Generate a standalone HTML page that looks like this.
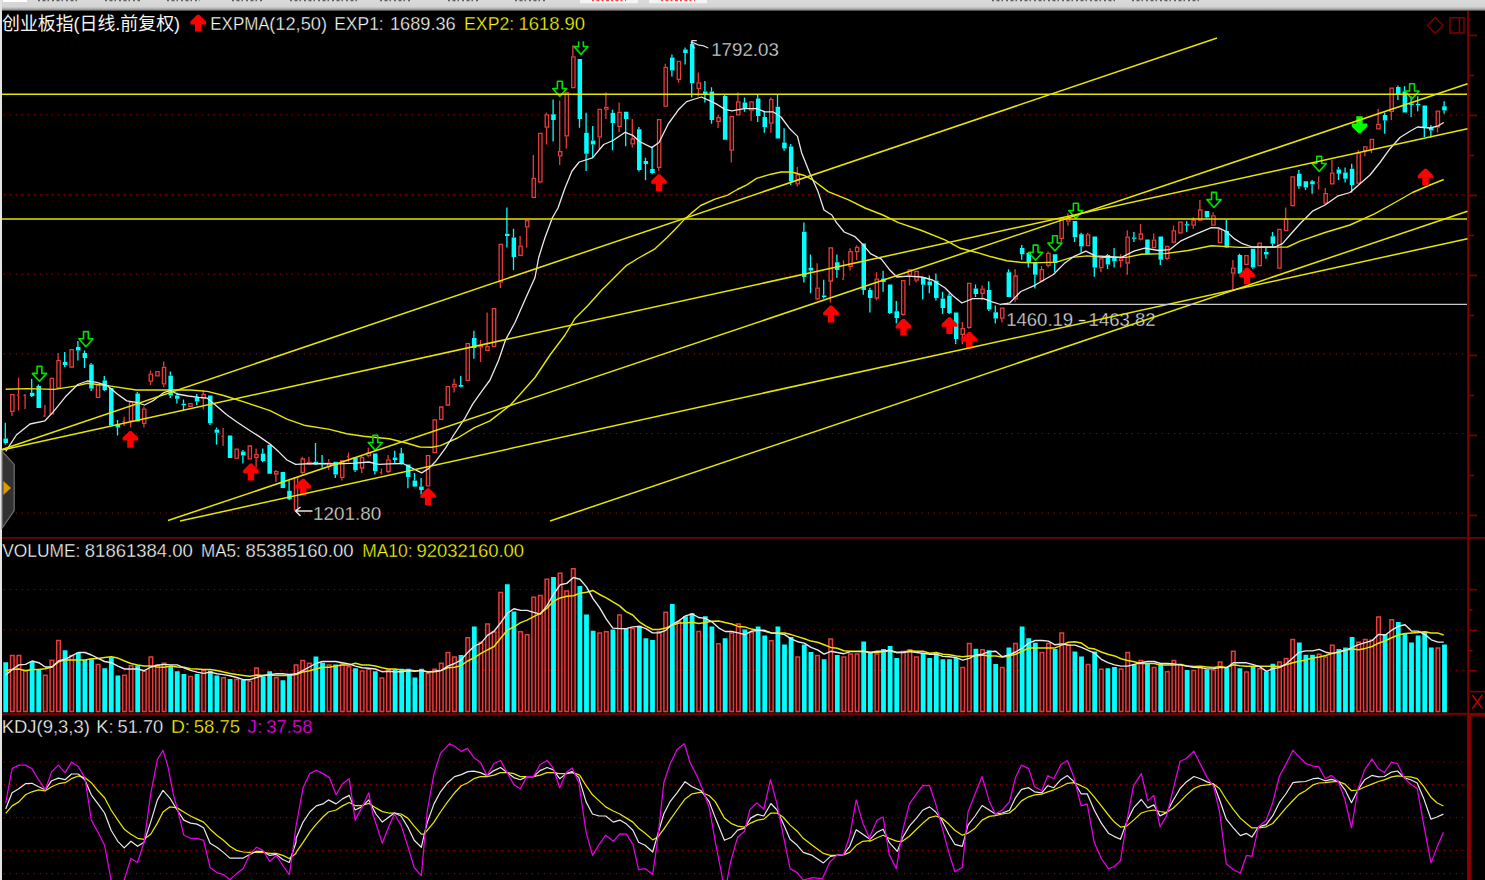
<!DOCTYPE html>
<html><head><meta charset="utf-8"><title>chart</title><style>html,body{margin:0;padding:0;background:#000;overflow:hidden}body{width:1485px;height:880px;position:relative;font-family:"Liberation Sans",sans-serif}</style></head><body>
<svg width="1485" height="880" viewBox="0 0 1485 880" style="position:absolute;left:0;top:0;display:block">
<defs><linearGradient id="tg" x1="0" y1="0" x2="0" y2="1"><stop offset="0" stop-color="#dadada"/><stop offset="0.6" stop-color="#d4d4d4"/><stop offset="0.76" stop-color="#b0b0b0"/><stop offset="0.86" stop-color="#909090"/><stop offset="1" stop-color="#000"/></linearGradient></defs>
<rect width="1485" height="880" fill="#000"/>
<rect x="0" y="0" width="1485" height="11.4" fill="url(#tg)"/>
<rect x="3" y="0" width="24" height="2" fill="#fff"/>
<line x1="38" y1="0.5" x2="78" y2="0.5" stroke="#444" stroke-width="1.6" stroke-dasharray="2 2.5 3 2 1.5 3" opacity="0.8"/>
<line x1="105" y1="0.5" x2="140" y2="0.5" stroke="#444" stroke-width="1.6" stroke-dasharray="2 2.5 3 2 1.5 3" opacity="0.8"/>
<line x1="167" y1="0.5" x2="200" y2="0.5" stroke="#444" stroke-width="1.6" stroke-dasharray="2 2.5 3 2 1.5 3" opacity="0.8"/>
<line x1="232" y1="0.5" x2="262" y2="0.5" stroke="#444" stroke-width="1.6" stroke-dasharray="2 2.5 3 2 1.5 3" opacity="0.8"/>
<line x1="290" y1="0.5" x2="360" y2="0.5" stroke="#444" stroke-width="1.6" stroke-dasharray="2 2.5 3 2 1.5 3" opacity="0.8"/>
<line x1="380" y1="0.5" x2="410" y2="0.5" stroke="#444" stroke-width="1.6" stroke-dasharray="2 2.5 3 2 1.5 3" opacity="0.8"/>
<line x1="448" y1="0.5" x2="480" y2="0.5" stroke="#444" stroke-width="1.6" stroke-dasharray="2 2.5 3 2 1.5 3" opacity="0.8"/>
<line x1="515" y1="0.5" x2="545" y2="0.5" stroke="#444" stroke-width="1.6" stroke-dasharray="2 2.5 3 2 1.5 3" opacity="0.8"/>
<line x1="992" y1="0.5" x2="1117" y2="0.5" stroke="#444" stroke-width="1.6" stroke-dasharray="2 2.5 3 2 1.5 3" opacity="0.8"/>
<line x1="1132" y1="0.5" x2="1202" y2="0.5" stroke="#444" stroke-width="1.6" stroke-dasharray="2 2.5 3 2 1.5 3" opacity="0.8"/>
<rect x="580" y="0" width="58" height="3.2" fill="#f4f4f4"/>
<line x1="592" y1="0.5" x2="626" y2="0.5" stroke="#f03030" stroke-width="1.4" stroke-dasharray="2 2.5 3 2" opacity="0.85"/>
<rect x="649" y="0" width="58" height="3.2" fill="#f4f4f4"/>
<line x1="661" y1="0.5" x2="695" y2="0.5" stroke="#f03030" stroke-width="1.4" stroke-dasharray="2 2.5 3 2" opacity="0.85"/>
<rect x="0" y="0" width="2" height="880" fill="#e4e4e4"/>
<line x1="3.7" y1="114.9" x2="1466" y2="114.9" stroke="#8c0000" stroke-width="1.2" stroke-dasharray="1.3 4.7"/>
<line x1="3.7" y1="194.6" x2="1466" y2="194.6" stroke="#8c0000" stroke-width="1.2" stroke-dasharray="1.3 4.7"/>
<line x1="3.7" y1="274.2" x2="1466" y2="274.2" stroke="#8c0000" stroke-width="1.2" stroke-dasharray="1.3 4.7"/>
<line x1="3.7" y1="353.9" x2="1466" y2="353.9" stroke="#8c0000" stroke-width="1.2" stroke-dasharray="1.3 4.7"/>
<line x1="3.7" y1="433.5" x2="1466" y2="433.5" stroke="#8c0000" stroke-width="1.2" stroke-dasharray="1.3 4.7"/>
<line x1="3.7" y1="513.1" x2="1466" y2="513.1" stroke="#8c0000" stroke-width="1.2" stroke-dasharray="1.3 4.7"/>
<line x1="3.7" y1="589.5" x2="1466" y2="589.5" stroke="#8c0000" stroke-width="1.2" stroke-dasharray="1.3 4.7"/>
<line x1="3.7" y1="630" x2="1466" y2="630" stroke="#8c0000" stroke-width="1.2" stroke-dasharray="1.3 4.7"/>
<line x1="3.7" y1="670.4" x2="1466" y2="670.4" stroke="#8c0000" stroke-width="1.2" stroke-dasharray="1.3 4.7"/>
<line x1="3.7" y1="762" x2="1466" y2="762" stroke="#8c0000" stroke-width="1.2" stroke-dasharray="1.3 4.7"/>
<line x1="3.7" y1="784.7" x2="1466" y2="784.7" stroke="#8c0000" stroke-width="1.2" stroke-dasharray="1.3 4.7"/>
<line x1="3.7" y1="817.6" x2="1466" y2="817.6" stroke="#8c0000" stroke-width="1.2" stroke-dasharray="1.3 4.7"/>
<line x1="3.7" y1="850.4" x2="1466" y2="850.4" stroke="#8c0000" stroke-width="1.2" stroke-dasharray="1.3 4.7"/>
<line x1="3.7" y1="873.6" x2="1466" y2="873.6" stroke="#8c0000" stroke-width="1.2" stroke-dasharray="1.3 4.7"/>
<rect x="2" y="537.1" width="1483" height="1.6" fill="#800000"/>
<rect x="2" y="712.8" width="1483" height="2.2" fill="#700000"/>
<rect x="1467.2" y="11" width="2" height="869" fill="#800000"/>
<rect x="1469" y="34.7" width="8" height="1.6" fill="#800000"/>
<rect x="1469" y="74.7" width="5" height="1.6" fill="#800000"/>
<rect x="1469" y="114.7" width="8" height="1.6" fill="#800000"/>
<rect x="1469" y="154.7" width="5" height="1.6" fill="#800000"/>
<rect x="1469" y="194.7" width="8" height="1.6" fill="#800000"/>
<rect x="1469" y="234.7" width="5" height="1.6" fill="#800000"/>
<rect x="1469" y="274.7" width="8" height="1.6" fill="#800000"/>
<rect x="1469" y="314.7" width="5" height="1.6" fill="#800000"/>
<rect x="1469" y="354.7" width="8" height="1.6" fill="#800000"/>
<rect x="1469" y="394.7" width="5" height="1.6" fill="#800000"/>
<rect x="1469" y="434.7" width="8" height="1.6" fill="#800000"/>
<rect x="1469" y="474.7" width="5" height="1.6" fill="#800000"/>
<rect x="1469" y="514.7" width="8" height="1.6" fill="#800000"/>
<rect x="1469" y="588.9" width="8" height="1.6" fill="#800000"/>
<rect x="1469" y="609.4" width="3.5" height="1.6" fill="#800000"/>
<rect x="1469" y="629.5" width="8" height="1.6" fill="#800000"/>
<rect x="1469" y="650" width="3.5" height="1.6" fill="#800000"/>
<rect x="1469" y="670" width="8" height="1.6" fill="#800000"/>
<rect x="1467.2" y="713" width="4" height="167" fill="#880000"/>
<rect x="1467.2" y="713.3" width="18" height="3.2" fill="#800000"/>
<rect x="1469" y="690.8" width="16" height="1.6" fill="#800000"/>
<path d="M1472.3 695 L1482.3 708.6 M1482.3 695 L1472.3 708.6" stroke="#c00000" stroke-width="1.5" fill="none"/>
<path d="M1435.2 17.5 L1443.1 25.4 L1435.2 33.3 L1427.3 25.4 Z" stroke="#800000" stroke-width="1.3" fill="none"/>
<path d="M1450 17.8 H1464 V33 H1450 Z M1459.4 17.8 V33" stroke="#800000" stroke-width="1.5" fill="none"/>
<g font-family="'Liberation Sans', sans-serif" font-size="18.4" fill="#e0e0e0" stroke="#000" stroke-width="0.35"><text x="1006.2" y="326" textLength="67" lengthAdjust="spacingAndGlyphs">1460.19</text><text x="1077.4" y="326" textLength="9" lengthAdjust="spacingAndGlyphs">-</text><text x="1088.6" y="326" textLength="67" lengthAdjust="spacingAndGlyphs">1463.82</text></g>
<path d="M3.5 438.5h4.5v4.5h-4.5zM29.9 392.7h4.5v3.3h-4.5zM36.5 386h4.5v22h-4.5zM62.8 362h4.5v3h-4.5zM76 347h4.5v3.5h-4.5zM82.6 353h4.5v5h-4.5zM89.2 364.6h4.5v24h-4.5zM102.5 380.5h4.5v9.5h-4.5zM109 388h4.5v37.5h-4.5zM115.6 424h4.5v3.6h-4.5zM135.4 393.5h4.5v27.9h-4.5zM168.4 375.8h4.5v19.7h-4.5zM175 395.5h4.5v3.2h-4.5zM181.6 403.8h4.5v1.4h-4.5zM194.8 397.6h4.5v3.9h-4.5zM208 395.5h4.5v27.8h-4.5zM214.6 429.5h4.5v3.3h-4.5zM227.8 435.5h4.5v22.5h-4.5zM241 451.4h4.5v4.1h-4.5zM260.8 453.5h4.5v7.5h-4.5zM267.4 444.8h4.5v28.9h-4.5zM280.6 472h4.5v16h-4.5zM287.2 490.8h4.5v8.5h-4.5zM313.6 461.8h4.5v2.6h-4.5zM320.2 462.8h4.5v1.4h-4.5zM333.4 461.8h4.5v12.8h-4.5zM353.2 457.5h4.5v12.8h-4.5zM373 453.6h4.5v17.6h-4.5zM392.8 457.5h4.5v2.5h-4.5zM399.4 453.3h4.5v10.2h-4.5zM406 464.4h4.5v12.6h-4.5zM412.6 480.5h4.5v6h-4.5zM419.2 486.5h4.5v3.5h-4.5zM458.8 385h4.5v1.7h-4.5zM472 338h4.5v10h-4.5zM505 233.7h4.5v2.3h-4.5zM511.6 237.5h4.5v19.5h-4.5zM551.2 114.3h4.5v5.7h-4.5zM577.6 59h4.5v60h-4.5zM584.2 132.7h4.5v21h-4.5zM590.9 140.5h4.5v4h-4.5zM610.6 112.8h4.5v10.2h-4.5zM623.9 111.8h4.5v7.2h-4.5zM637 129.2h4.5v40.8h-4.5zM643.6 161h4.5v3h-4.5zM650.2 169h4.5v4h-4.5zM670 57.6h4.5v12.9h-4.5zM683.2 49.4h4.5v3.6h-4.5zM689.9 44h4.5v39.2h-4.5zM703 91.4h4.5v3h-4.5zM709.6 91.4h4.5v28.6h-4.5zM722.9 95.9h4.5v43.9h-4.5zM742.6 102.6h4.5v6.1h-4.5zM755.9 98.5h4.5v17.5h-4.5zM762.5 117h4.5v10.2h-4.5zM775.6 106.7h4.5v31.7h-4.5zM782.2 142.5h4.5v6.1h-4.5zM788.9 146.6h4.5v34.8h-4.5zM802 231.7h4.5v45.3h-4.5zM808.6 267.7h4.5v2.7h-4.5zM821.9 295.5h4.5v1.5h-4.5zM835 262.2h4.5v7.8h-4.5zM861.5 243.6h4.5v46.4h-4.5zM868 290h4.5v7.9h-4.5zM881.2 278.5h4.5v3.5h-4.5zM887.9 284.4h4.5v28.5h-4.5zM894.5 311.3h4.5v6.7h-4.5zM920.9 277h4.5v7.7h-4.5zM927.5 281.6h4.5v3.9h-4.5zM934 280.8h4.5v17.1h-4.5zM940.6 298.6h4.5v9.3h-4.5zM947.2 295.5h4.5v17.4h-4.5zM953.9 312.6h4.5v26.3h-4.5zM973.6 288.6h4.5v5.4h-4.5zM986.9 290h4.5v19.5h-4.5zM993.5 312.3h4.5v6.2h-4.5zM1006.6 272.3h4.5v24.7h-4.5zM1019.9 248h4.5v6.3h-4.5zM1026.5 252.8h4.5v9.2h-4.5zM1033 262h4.5v12.8h-4.5zM1052.8 254.3h4.5v8.6h-4.5zM1072.7 221h4.5v16.3h-4.5zM1079.2 234.2h4.5v12.4h-4.5zM1092.5 236.5h4.5v31h-4.5zM1105.7 255.1h4.5v9.3h-4.5zM1112.2 256.7h4.5v4.6h-4.5zM1132 237.4h4.5v1.4h-4.5zM1145.2 239.6h4.5v14.4h-4.5zM1158.5 236.5h4.5v23.3h-4.5zM1184.8 224.2h4.5v1.4h-4.5zM1204.7 211h4.5v6.2h-4.5zM1224.5 231.1h4.5v16.3h-4.5zM1237.7 255h4.5v18.7h-4.5zM1250.8 248.7h4.5v18.8h-4.5zM1264 252h4.5v2.5h-4.5zM1270.6 236.2h4.5v7.5h-4.5zM1297 173.7h4.5v12.5h-4.5zM1303.6 181.2h4.5v6.3h-4.5zM1310.2 181.2h4.5v3h-4.5zM1336.6 169.5h4.5v4.2h-4.5zM1343.2 172.5h4.5v6.2h-4.5zM1349.8 168.7h4.5v16.3h-4.5zM1382.8 115h4.5v5.5h-4.5zM1396 87h4.5v8h-4.5zM1402.6 91.2h4.5v21.3h-4.5zM1409.2 103.6h4.5v1.4h-4.5zM1415.8 103.8h4.5v1.4h-4.5zM1422.5 105.5h4.5v22h-4.5zM1429 127.5h4.5v3h-4.5zM1442.2 106.2h4.5v4.3h-4.5z" fill="#00ffff"/>
<path d="M5.3 422.7V438.5M5.3 443V444.5M31.7 379V392.7M31.7 396V397M38.3 384.5V386M64.7 352V362M64.7 365V367M77.9 341V347M77.9 350.5V360.5M84.5 350.5V353M84.5 358V368M91.1 363V364.6M91.1 388.6V391M104.3 376V380.5M104.3 390V391M117.5 420V424M117.5 427.6V435.5M137.3 392V393.5M170.3 371.5V375.8M170.3 395.5V398M176.9 392.7V395.5M176.9 398.7V403.6M183.5 399.5V403.8M183.5 405.2V410.5M196.7 394V397.6M196.7 401.5V405M209.9 423.3V425M216.5 427.6V429.5M216.5 432.8V444.5M242.9 450V451.4M242.9 455.5V463.6M262.7 448.6V453.5M262.7 461V462.3M289.1 480.5V490.8M289.1 499.3V500M315.5 443V461.8M315.5 464.4V465M322.1 455V462.8M322.1 464.2V467.8M335.3 474.6V478M355.1 470.3V472M374.9 471.2V474.6M394.7 450.7V457.5M394.7 460V463.5M401.3 447.8V453.3M401.3 463.5V464.4M407.9 477V488.2M414.5 472.9V480.5M414.5 486.5V487M421.1 478V486.5M421.1 490V494.2M460.7 376V385M460.7 386.7V387.5M473.9 330.7V338M473.9 348V358.7M506.9 207.5V233.7M506.9 236V247.5M513.5 228.7V237.5M513.5 257V270M553.1 99.5V114.3M553.1 120V141.5M579.5 119V127.8M586.1 112.8V132.7M586.1 153.7V171M592.7 126V140.5M592.7 144.5V157.8M612.5 109.8V112.8M612.5 123V150.3M625.7 119V146.2M638.9 127V129.2M638.9 170V171.5M645.5 157.8V161M645.5 164V180.3M652.1 146.6V169M652.1 173V174.2M671.9 54.5V57.6M671.9 70.5V76.6M685.1 47.4V49.4M685.1 53V64.4M691.7 40.2V44M691.7 83.2V97.5M704.9 81V91.4M704.9 94.4V102.6M711.5 87.3V91.4M711.5 120V123.7M724.7 94.4V95.9M744.5 97.5V102.6M744.5 108.7V111.8M757.7 95V98.5M757.7 116V122M764.3 110.8V117M764.3 127.2V132.7M777.5 95V106.7M784.1 128.2V142.5M784.1 148.6V150.7M790.7 144V146.6M790.7 181.4V185M803.9 222.4V231.7M803.9 277V282.4M810.5 254.5V267.7M810.5 270.4V293.2M823.7 279.7V295.5M823.7 297V298.6M836.9 254.5V262.2M836.9 270V277.7M863.3 290V294.8M869.9 287.8V290M869.9 297.9V312.6M883.1 270.8V278.5M883.1 282V291.7M889.7 312.9V314M896.3 301V311.3M896.3 318V323.4M922.7 284.7V299.4M929.3 275.4V281.6M929.3 285.5V293.2M935.9 273.5V280.8M935.9 297.9V300.5M942.5 291.7V298.6M942.5 307.9V314M949.1 293.2V295.5M949.1 312.9V314M955.7 338.9V344.3M975.5 284.4V288.6M975.5 294V297M988.7 281.3V290M988.7 309.5V311M995.3 305.6V312.3M995.3 318.5V323.4M1008.5 269.2V272.3M1021.7 245V248M1021.7 254.3V259.8M1028.3 262V267.5M1034.9 274.8V288.4M1054.7 262.9V272.1M1074.5 237.3V242M1081.1 232.7V234.2M1081.1 246.6V252.8M1094.3 267.5V276.8M1107.5 254V255.1M1107.5 264.4V269M1114.1 248.1V256.7M1114.1 261.3V267.5M1133.9 231.9V237.4M1133.9 238.8V242M1160.3 259.8V264.9M1186.7 221V224.2M1186.7 225.6V231.9M1206.5 217.2V218.4M1226.3 219.5V231.1M1226.3 247.4V248.1M1239.5 253.7V255M1252.7 267.5V268.7M1265.9 247.5V252M1265.9 254.5V258.7M1272.5 232V236.2M1272.5 243.7V246.2M1298.9 170V173.7M1298.9 186.2V188.7M1305.5 187.5V190M1312.1 180V181.2M1312.1 184.2V193.7M1338.5 167V169.5M1338.5 173.7V180M1345.1 167.5V172.5M1345.1 178.7V182.5M1351.7 163.7V168.7M1351.7 185V192.5M1384.7 112.5V115M1384.7 120.5V133.7M1397.9 85.5V87M1397.9 95V100M1404.5 86.2V91.2M1411.1 96.2V103.6M1411.1 105V117M1417.7 96.2V103.8M1417.7 105.2V111.2M1424.3 127.5V137M1430.9 125V127.5M1430.9 130.5V137.5M1444.1 101.2V106.2M1444.1 110.5V113.7" stroke="#00ffff" stroke-width="1.3" fill="none"/>
<path d="M10.7 394.6h3.3v16.8h-3.3zM50.2 378.3h3.3v35.6h-3.3zM56.9 360.6h3.3v27.4h-3.3zM70 349.6h3.3v17.4h-3.3zM96.4 385.1h3.3v12.3h-3.3zM129.4 402.1h3.3v18.7h-3.3zM142.6 409.1h3.3v14.3h-3.3zM149.2 374.2h3.3v7h-3.3zM155.8 371.6h3.3v4.2h-3.3zM162.4 367.4h3.3v16.5h-3.3zM188.8 403.6h3.3v2.8h-3.3zM202 394.6h3.3v3.5h-3.3zM235 449.2h3.3v8.9h-3.3zM248.2 446h3.3v12.9h-3.3zM254.8 454.6h3.3v2.8h-3.3zM274.6 471.6h3.3v2.4h-3.3zM294.4 477.6h3.3v32.2h-3.3zM301.1 459h3.3v13.3h-3.3zM307.6 462.4h3.3v1.4h-3.3zM327.4 463.2h3.3v3.2h-3.3zM340.6 461h3.3v16.4h-3.3zM360.4 457.6h3.3v10.4h-3.3zM367.1 453h3.3v2.7h-3.3zM386.8 459.8h3.3v11.6h-3.3zM426.4 455.6h3.3v30.3h-3.3zM433.1 419.8h3.3v32.9h-3.3zM439.6 407h3.3v12.4h-3.3zM446.2 386.6h3.3v18.4h-3.3zM452.8 384.3h3.3v2.6h-3.3zM466.1 343.6h3.3v36.8h-3.3zM479.2 345.6h3.3v1.3h-3.3zM485.8 346.6h3.3v3.8h-3.3zM492.4 308.6h3.3v37.8h-3.3zM499.1 244.3h3.3v37.6h-3.3zM518.9 246.1h3.3v9.3h-3.3zM525.5 220.6h3.3v6.3h-3.3zM532.1 178.3h3.3v19.1h-3.3zM538.7 133.3h3.3v48.5h-3.3zM545.2 114.9h3.3v12.3h-3.3zM558.5 151.6h3.3v4.2h-3.3zM565.1 93h3.3v42.8h-3.3zM571.7 56.8h3.3v30.9h-3.3zM598.1 109.3h3.3v27.5h-3.3zM604.7 107.3h3.3v1.9h-3.3zM617.9 112.4h3.3v14h-3.3zM631.1 139h3.3v4.9h-3.3zM657.5 119.6h3.3v47.8h-3.3zM664.1 67.4h3.3v38.7h-3.3zM677.2 61.3h3.3v18.1h-3.3zM697.1 82.8h3.3v5.6h-3.3zM716.9 117.6h3.3v3.8h-3.3zM730.1 116.6h3.3v33.5h-3.3zM736.6 101.8h3.3v13.1h-3.3zM749.9 101.8h3.3v8.4h-3.3zM769.6 99.6h3.3v23.5h-3.3zM796.1 174.8h3.3v9h-3.3zM815.9 288.1h3.3v10.7h-3.3zM829.1 247.8h3.3v33.2h-3.3zM848.9 251.6h3.3v14.7h-3.3zM855.5 247.3h3.3v4.3h-3.3zM875.2 279.1h3.3v18.9h-3.3zM901.6 280.6h3.3v33.8h-3.3zM908.2 269.8h3.3v5h-3.3zM914.9 271.4h3.3v8.8h-3.3zM961.1 328.6h3.3v5.8h-3.3zM967.6 283.4h3.3v44h-3.3zM980.9 289.2h3.3v4.2h-3.3zM1000.6 308.2h3.3v10h-3.3zM1013.9 276h3.3v22.8h-3.3zM1040.2 269.6h3.3v11.2h-3.3zM1046.8 253.4h3.3v12h-3.3zM1060 218.6h3.3v19.7h-3.3zM1066.6 217.8h3.3v3.4h-3.3zM1086.4 234.8h3.3v10.9h-3.3zM1099.6 258.8h3.3v8.9h-3.3zM1119.4 258.8h3.3v1.9h-3.3zM1126 237.1h3.3v25.9h-3.3zM1139.2 234h3.3v5h-3.3zM1152.4 240.2h3.3v7.3h-3.3zM1165.6 246.4h3.3v12h-3.3zM1172.2 230.9h3.3v11.2h-3.3zM1178.8 222.1h3.3v10.7h-3.3zM1192 220.1h3.3v5h-3.3zM1198.6 210h3.3v10h-3.3zM1211.8 215.9h3.3v9.2h-3.3zM1218.4 229.4h3.3v13.2h-3.3zM1231.6 268.1h3.3v5h-3.3zM1244.8 255.6h3.3v8.8h-3.3zM1258 243.1h3.3v22.5h-3.3zM1277.8 229.3h3.3v38.8h-3.3zM1284.4 219.3h3.3v11.3h-3.3zM1291 176.8h3.3v28.8h-3.3zM1324 193.6h3.3v9.5h-3.3zM1330.6 173.1h3.3v10.8h-3.3zM1357 153.1h3.3v30h-3.3zM1363.6 146.8h3.3v3.8h-3.3zM1370.2 139.3h3.3v10.1h-3.3zM1376.8 124.3h3.3v4.6h-3.3zM1390 88.1h3.3v23.3h-3.3zM1436.2 111.1h3.3v15.8h-3.3z" stroke="#e63c3c" stroke-width="1.3" fill="#000"/>
<path d="M11.9 412V416M16.9 395.2H19.1M18.5 377.7V394.5M18.5 396V410.5M23.5 395.5H25.7M25.1 394V394.8M25.1 396.2V409M43.3 416H45.5M44.9 405V415M58.1 353V360M122.5 421.5H124.7M124.1 416.7V420.8M124.1 422.2V426M130.7 421.4V427.6M143.9 406.4V408.5M143.9 424V427.6M150.5 370.4V373.6M150.5 381.8V385M163.7 361.4V366.8M163.7 384.5V387.3M203.3 390V394M203.3 398.7V409.6M221.5 436.5H223.7M223.1 428V435.8M223.1 437.2V446M256.1 448.6V454M256.1 458V467.7M275.9 470V471M275.9 474.6V482M302.3 456.7V458.4M302.3 472.9V474.6M308.9 456.7V461.8M308.9 464.4V465M328.7 459V462.6M328.7 467V470M341.9 460V460.4M341.9 478V480.5M346.9 456.5H349.1M348.5 452.4V455.8M348.5 457.2V461.8M361.7 455.8V457M361.7 468.6V472.9M368.3 447.8V452.4M368.3 456.3V457.5M379.9 472.5H382.1M381.5 468.6V471.8M381.5 473.2V474.6M388.1 455V459.2M388.1 472V472.9M454.1 378.7V383.7M454.1 387.5V392.5M480.5 340V345M480.5 347.5V362M487.1 312.5V346M500.3 282.5V288M520.1 236V245.5M526.7 227.5V247.5M533.3 155V177.7M539.9 182.4V183.4M546.5 112.8V114.3M546.5 127.8V144.5M559.7 100.6V151M559.7 156.4V165M566.3 136.4V148.6M572.9 45.3V56.2M599.3 137.4V149.7M605.9 92.4V106.7M605.9 109.8V119M619.1 102.6V111.8M619.1 127V132.3M632.3 119V138.4M632.3 144.5V147.6M658.7 168V171M665.3 63.7V66.8M678.5 80V82.8M698.3 72.5V82.2M698.3 89V96.5M718.1 115V117M718.1 122V128M731.3 150.7V162.5M737.9 92.4V101.2M751.1 110.8V121M770.9 97.5V99M770.9 123.7V132.7M797.3 167V174.2M797.3 184.4V186.5M817.1 263.3V287.5M817.1 299.4V300.2M830.3 281.6V302.5M841.9 279.1H844.1M843.5 260.2V278.2M850.1 248.3V251M850.1 266.9V270.4M856.7 245.2V246.7M856.7 252.2V260M876.5 272.3V278.5M876.5 298.6V300.2M902.9 315V315.7M909.5 275.4V285.5M916.1 280.8V282.4M962.3 321.9V328M962.3 335V344.3M968.9 328V328.8M982.1 285.5V288.6M982.1 294V300.2M1001.9 318.8V322.6M1015.1 269.2V275.4M1015.1 299.4V301.7M1041.5 266V269M1041.5 281.4V282.2M1048.1 251.2V252.8M1048.1 266V267.5M1061.3 238.9V242M1067.9 213.3V217.2M1067.9 221.8V225.7M1087.7 232.7V234.2M1100.9 268.3V272.1M1120.7 254.3V258.2M1120.7 261.3V267.5M1127.3 230.3V236.5M1127.3 263.6V274.8M1140.5 224.1V233.4M1140.5 239.6V240.4M1153.7 233.4V239.6M1166.9 259V260.2M1173.5 225.7V230.3M1173.5 242.7V243.5M1180.1 233.4V234.2M1193.3 217.2V219.5M1193.3 225.7V228.8M1199.9 200.1V209.4M1213.1 212.2V215.3M1232.9 260V267.5M1232.9 273.7V290M1285.7 207.5V218.7M1317.1 182.8H1319.3M1318.7 176.2V182M1318.7 183.7V189.5M1325.3 188V193M1325.3 203.7V205M1331.9 160V172.5M1358.3 150V152.5M1364.9 151.2V156.2M1371.5 150V153M1378.1 108.7V123.7M1391.3 112V120M1437.5 127.5V132.5" stroke="#e63c3c" stroke-width="1.3" fill="none"/>
<path d="M3.3 662.2h4.8V712.2h-4.8zM29.7 661.8h4.8V712.2h-4.8zM36.3 669.5h4.8V712.2h-4.8zM62.7 650.3h4.8V712.2h-4.8zM75.9 652.5h4.8V712.2h-4.8zM82.5 660.1h4.8V712.2h-4.8zM89.1 659.3h4.8V712.2h-4.8zM102.3 668.3h4.8V712.2h-4.8zM108.9 657.2h4.8V712.2h-4.8zM115.5 675.5h4.8V712.2h-4.8zM135.3 665.2h4.8V712.2h-4.8zM168.3 666.1h4.8V712.2h-4.8zM174.9 671.2h4.8V712.2h-4.8zM181.5 674.1h4.8V712.2h-4.8zM194.7 674.1h4.8V712.2h-4.8zM207.9 670.7h4.8V712.2h-4.8zM214.5 675.5h4.8V712.2h-4.8zM227.7 678.9h4.8V712.2h-4.8zM240.9 679.7h4.8V712.2h-4.8zM260.7 676.3h4.8V712.2h-4.8zM267.3 671.2h4.8V712.2h-4.8zM280.5 680.2h4.8V712.2h-4.8zM287.1 673.8h4.8V712.2h-4.8zM313.5 656.4h4.8V712.2h-4.8zM320.1 662.7h4.8V712.2h-4.8zM333.3 664.4h4.8V712.2h-4.8zM353.1 668.3h4.8V712.2h-4.8zM372.9 671.2h4.8V712.2h-4.8zM392.7 669.5h4.8V712.2h-4.8zM399.3 668.7h4.8V712.2h-4.8zM405.9 668.7h4.8V712.2h-4.8zM412.5 677.5h4.8V712.2h-4.8zM419.1 668.7h4.8V712.2h-4.8zM458.7 655h4.8V712.2h-4.8zM471.9 626.4h4.8V712.2h-4.8zM504.9 584.3h4.8V712.2h-4.8zM511.5 611.6h4.8V712.2h-4.8zM551.1 577h4.8V712.2h-4.8zM577.5 586h4.8V712.2h-4.8zM584.1 614.5h4.8V712.2h-4.8zM590.7 630.8h4.8V712.2h-4.8zM610.5 629.5h4.8V712.2h-4.8zM623.7 628.6h4.8V712.2h-4.8zM636.9 625.7h4.8V712.2h-4.8zM643.5 638.3h4.8V712.2h-4.8zM650.1 640h4.8V712.2h-4.8zM669.9 603.9h4.8V712.2h-4.8zM683.1 616.2h4.8V712.2h-4.8zM689.7 613.3h4.8V712.2h-4.8zM702.9 616.2h4.8V712.2h-4.8zM709.5 626.4h4.8V712.2h-4.8zM722.7 638.3h4.8V712.2h-4.8zM742.5 629.5h4.8V712.2h-4.8zM755.7 626.4h4.8V712.2h-4.8zM762.3 635.4h4.8V712.2h-4.8zM775.5 626.4h4.8V712.2h-4.8zM782.1 644.5h4.8V712.2h-4.8zM788.7 637.1h4.8V712.2h-4.8zM801.9 644.5h4.8V712.2h-4.8zM808.5 652h4.8V712.2h-4.8zM821.7 659.3h4.8V712.2h-4.8zM834.9 655h4.8V712.2h-4.8zM861.3 641.4h4.8V712.2h-4.8zM867.9 652h4.8V712.2h-4.8zM881.1 649.1h4.8V712.2h-4.8zM887.7 646h4.8V712.2h-4.8zM894.3 657.9h4.8V712.2h-4.8zM920.7 653.3h4.8V712.2h-4.8zM927.3 657.9h4.8V712.2h-4.8zM933.9 653.3h4.8V712.2h-4.8zM940.5 659.3h4.8V712.2h-4.8zM947.1 659.3h4.8V712.2h-4.8zM953.7 657.9h4.8V712.2h-4.8zM973.5 648.7h4.8V712.2h-4.8zM986.7 650.3h4.8V712.2h-4.8zM993.3 663.9h4.8V712.2h-4.8zM1006.5 647.4h4.8V712.2h-4.8zM1019.7 626.4h4.8V712.2h-4.8zM1026.3 638.3h4.8V712.2h-4.8zM1032.9 642.8h4.8V712.2h-4.8zM1052.7 649.1h4.8V712.2h-4.8zM1072.5 651.6h4.8V712.2h-4.8zM1079.1 656.4h4.8V712.2h-4.8zM1092.3 651.6h4.8V712.2h-4.8zM1105.5 668.3h4.8V712.2h-4.8zM1112.1 667h4.8V712.2h-4.8zM1131.9 664.4h4.8V712.2h-4.8zM1145.1 663.5h4.8V712.2h-4.8zM1158.3 663.9h4.8V712.2h-4.8zM1184.7 670h4.8V712.2h-4.8zM1204.5 669.5h4.8V712.2h-4.8zM1224.3 667.6h4.8V712.2h-4.8zM1237.5 668.2h4.8V712.2h-4.8zM1250.7 666.6h4.8V712.2h-4.8zM1263.9 671.4h4.8V712.2h-4.8zM1270.5 663.8h4.8V712.2h-4.8zM1296.9 642.6h4.8V712.2h-4.8zM1303.5 654.7h4.8V712.2h-4.8zM1310.1 654.7h4.8V712.2h-4.8zM1336.5 649h4.8V712.2h-4.8zM1343.1 647.4h4.8V712.2h-4.8zM1349.7 636.9h4.8V712.2h-4.8zM1382.7 634h4.8V712.2h-4.8zM1395.9 622.1h4.8V712.2h-4.8zM1402.5 633h4.8V712.2h-4.8zM1409.1 642.6h4.8V712.2h-4.8zM1415.7 635.5h4.8V712.2h-4.8zM1422.3 631.7h4.8V712.2h-4.8zM1428.9 647.4h4.8V712.2h-4.8zM1442.1 644.6h4.8V712.2h-4.8z" fill="#00ffff"/>
<path d="M10.5 655.6h3.6V711.6h-3.6zM17.1 655.6h3.6V711.6h-3.6zM23.7 670.6h3.6V711.6h-3.6zM43.5 675.2h3.6V711.6h-3.6zM50.1 660.2h3.6V711.6h-3.6zM56.7 640.6h3.6V711.6h-3.6zM69.9 655.6h3.6V711.6h-3.6zM96.3 664.6h3.6V711.6h-3.6zM122.7 675.2h3.6V711.6h-3.6zM129.3 665.8h3.6V711.6h-3.6zM142.5 671.3h3.6V711.6h-3.6zM149.1 657h3.6V711.6h-3.6zM155.7 665h3.6V711.6h-3.6zM162.3 663.3h3.6V711.6h-3.6zM188.7 676.4h3.6V711.6h-3.6zM201.9 670.6h3.6V711.6h-3.6zM221.7 677.8h3.6V711.6h-3.6zM234.9 679.5h3.6V711.6h-3.6zM248.1 681.2h3.6V711.6h-3.6zM254.7 667.9h3.6V711.6h-3.6zM274.5 677.8h3.6V711.6h-3.6zM294.3 665h3.6V711.6h-3.6zM300.9 660.4h3.6V711.6h-3.6zM307.5 663.3h3.6V711.6h-3.6zM327.3 665h3.6V711.6h-3.6zM340.5 664.1h3.6V711.6h-3.6zM347.1 666.7h3.6V711.6h-3.6zM360.3 671h3.6V711.6h-3.6zM366.9 669.3h3.6V711.6h-3.6zM380.1 678.1h3.6V711.6h-3.6zM386.7 670.1h3.6V711.6h-3.6zM426.3 673.5h3.6V711.6h-3.6zM432.9 669.3h3.6V711.6h-3.6zM439.5 663.3h3.6V711.6h-3.6zM446.1 652.6h3.6V711.6h-3.6zM452.7 657h3.6V711.6h-3.6zM465.9 637.7h3.6V711.6h-3.6zM479.1 642.3h3.6V711.6h-3.6zM485.7 624.1h3.6V711.6h-3.6zM492.3 632.1h3.6V711.6h-3.6zM498.9 592.6h3.6V711.6h-3.6zM518.7 631.8h3.6V711.6h-3.6zM525.3 634.8h3.6V711.6h-3.6zM531.9 597.2h3.6V711.6h-3.6zM538.5 595.6h3.6V711.6h-3.6zM545.1 579.3h3.6V711.6h-3.6zM558.3 573.3h3.6V711.6h-3.6zM564.9 590.9h3.6V711.6h-3.6zM571.5 568.7h3.6V711.6h-3.6zM597.9 633.1h3.6V711.6h-3.6zM604.5 631.8h3.6V711.6h-3.6zM617.7 615.1h3.6V711.6h-3.6zM630.9 628.4h3.6V711.6h-3.6zM657.3 631.8h3.6V711.6h-3.6zM663.9 612.2h3.6V711.6h-3.6zM677.1 621.5h3.6V711.6h-3.6zM696.9 631.4h3.6V711.6h-3.6zM716.7 643.7h3.6V711.6h-3.6zM729.9 633.1h3.6V711.6h-3.6zM736.5 624.1h3.6V711.6h-3.6zM749.7 632.6h3.6V711.6h-3.6zM769.5 640.8h3.6V711.6h-3.6zM795.9 657h3.6V711.6h-3.6zM815.7 655.6h3.6V711.6h-3.6zM828.9 638.9h3.6V711.6h-3.6zM842.1 657h3.6V711.6h-3.6zM848.7 653.9h3.6V711.6h-3.6zM855.3 653.9h3.6V711.6h-3.6zM875.1 653.9h3.6V711.6h-3.6zM901.5 651.4h3.6V711.6h-3.6zM908.1 649.7h3.6V711.6h-3.6zM914.7 657h3.6V711.6h-3.6zM960.9 667.6h3.6V711.6h-3.6zM967.5 643.4h3.6V711.6h-3.6zM980.7 649.7h3.6V711.6h-3.6zM1000.5 667.6h3.6V711.6h-3.6zM1013.7 643.4h3.6V711.6h-3.6zM1040.1 652.6h3.6V711.6h-3.6zM1046.7 643.4h3.6V711.6h-3.6zM1059.9 633.1h3.6V711.6h-3.6zM1066.5 645.1h3.6V711.6h-3.6zM1086.3 664.5h3.6V711.6h-3.6zM1099.5 669.3h3.6V711.6h-3.6zM1119.3 668.9h3.6V711.6h-3.6zM1125.9 652.6h3.6V711.6h-3.6zM1139.1 660.4h3.6V711.6h-3.6zM1152.3 667.6h3.6V711.6h-3.6zM1165.5 671.8h3.6V711.6h-3.6zM1172.1 660.4h3.6V711.6h-3.6zM1178.7 664.5h3.6V711.6h-3.6zM1191.9 670.6h3.6V711.6h-3.6zM1198.5 667.6h3.6V711.6h-3.6zM1211.7 670.1h3.6V711.6h-3.6zM1218.3 661.9h3.6V711.6h-3.6zM1231.5 651.3h3.6V711.6h-3.6zM1244.7 672h3.6V711.6h-3.6zM1257.9 668.8h3.6V711.6h-3.6zM1277.7 661.9h3.6V711.6h-3.6zM1284.3 658.6h3.6V711.6h-3.6zM1290.9 639.4h3.6V711.6h-3.6zM1317.3 654.2h3.6V711.6h-3.6zM1323.9 657.1h3.6V711.6h-3.6zM1330.5 645.2h3.6V711.6h-3.6zM1356.9 642.3h3.6V711.6h-3.6zM1363.5 639.4h3.6V711.6h-3.6zM1370.1 640h3.6V711.6h-3.6zM1376.7 617h3.6V711.6h-3.6zM1389.9 619.8h3.6V711.6h-3.6zM1436.1 648h3.6V711.6h-3.6z" stroke="#e63c3c" stroke-width="1.5" fill="#200000"/>
<polyline points="5.6,670.4 12.3,669.5 18.9,669 25.6,670.7 32,669.5 38.7,669.5 45.3,668.7 52,667 58.5,661.8 65.1,659.8 71.7,660.1 78.2,660.1 84.9,660.1 91.5,658.8 98.2,658.4 104.6,657.6 111.3,656.7 117.9,658.1 124.6,661 131,663.5 137.7,664.9 144.3,666.1 151,666.1 157.5,667 164.1,667.3 170.8,666.1 177.2,667 183.9,667.3 190.5,668.7 197.2,669 203.6,669.5 210.3,669.5 216.9,670.4 223.6,672.1 230.1,673.4 236.7,674.6 243.4,675.5 249.9,676.3 256.5,675.1 263.2,675.5 269.7,675.1 276.3,675.5 282.9,675.5 289.4,675.5 296.1,674.6 302.7,672.1 309.4,670.7 315.8,669 322.5,667.3 329.1,667.3 335.8,666.1 342.2,664.9 348.9,664.9 355.5,663.2 362,664.9 368.7,664.9 375.3,666.1 382,667.8 388.4,669 395.1,669 401.7,670 408.4,670 414.8,670.7 421.5,670.7 428.1,671.7 434.6,671.7 441.3,670.4 447.9,667.8 454.6,667.3 461,665.6 467.7,661 474.3,657.6 481,653.3 487.5,649.9 494.1,646.5 500.8,638 507.3,630.3 513.9,626.9 520.6,622.6 527,620.1 533.7,616.7 540.3,613.3 547,608.2 553.4,601.3 560.1,597.9 566.7,596.2 573.4,595.7 579.9,593.3 586.5,592.3 593.2,590.6 599.6,594.5 606.3,597.9 612.9,601.9 619.6,605.9 626,611.6 632.7,615 639.3,621.8 646,626.1 652.5,629.5 659.1,629.5 665.8,628.1 672.2,625.2 678.9,623 685.5,623 692.2,622.3 698.6,623.5 705.3,622.6 711.9,621.3 718.6,620.9 725.1,622.6 731.8,624 738.2,626.4 744.9,626.9 751.5,629.1 758.2,630.3 764.6,631.2 771.3,632.9 777.9,632.9 784.6,632.9 791.1,634.6 797.7,636.6 804.4,638.8 811,641.1 817.5,642.2 824.1,644.8 830.8,647.4 837.2,648.2 843.9,650.8 850.5,651.3 857.2,651.3 863.7,651.6 870.3,652.5 877,652.5 883.6,651.6 890.1,650.8 896.7,652.5 903.4,652 909.8,650.8 916.5,651.3 923.1,651.3 929.8,653.3 936.3,652.5 942.9,654.2 949.6,654.7 956.2,655.9 962.7,656.7 969.4,655.9 975.8,655.9 982.5,655 989.1,655.9 995.8,655.9 1002.3,657.1 1008.9,655.9 1015.6,654.2 1022.2,651.3 1028.7,647.9 1035.3,647.9 1042,647.9 1048.4,647.9 1055.1,647.9 1061.7,645.1 1068.4,642.2 1074.9,641.7 1081.5,643.1 1088.2,647.9 1094.8,649.1 1101.3,652 1107.9,654.2 1114.6,655.9 1121,658.8 1127.7,660.5 1134.3,661.8 1141,663.5 1147.5,663.5 1154.1,663.5 1160.7,664.9 1167.4,664.9 1173.9,664.9 1180.5,664.4 1187.2,666.1 1193.6,666.6 1200.4,666.3 1206.9,667 1213.4,667.6 1220.2,666.6 1226.7,667.6 1233.4,664.7 1239.9,665.7 1246.4,666.3 1253.2,666.3 1259.7,666.3 1266.4,666.3 1272.9,666.3 1279.5,666.6 1286.2,664.7 1292.7,662.8 1299.2,661.3 1305.9,659.9 1312.5,658 1319.2,657 1325.7,655.5 1332.2,653.2 1339,652.2 1345.5,650.3 1352.2,649 1358.7,649.7 1365.2,648.4 1372,646.5 1378.5,643.2 1385.2,640.7 1391.7,637.8 1398.3,635 1405,633.6 1411.5,633.1 1418,632.5 1424.7,631.7 1431.3,633.1 1438,633.1 1443.7,635" stroke="#e6e600" stroke-width="1.5" fill="none" stroke-linejoin="round"/>
<polyline points="5.6,675.1 12.3,669.5 18.9,664.9 25.6,664.4 32,661 38.7,662.7 45.3,667 52,667 58.5,661 65.1,659.3 71.7,655.9 78.2,652.5 84.9,652.5 91.5,655 98.2,658.4 104.6,661.5 111.3,662.7 117.9,666.1 124.6,669 131,669 137.7,669 144.3,670.7 151,667 157.5,665.2 164.1,664.4 170.8,664.9 177.2,664.9 183.9,667.8 190.5,670.4 197.2,672.1 203.6,673.4 210.3,672.1 216.9,673.8 223.6,674.6 230.1,675.8 236.7,677.5 243.4,679.7 249.9,679.7 256.5,677.5 263.2,675.5 269.7,674.6 276.3,673.8 282.9,673.8 289.4,674.6 296.1,673.8 302.7,670.7 309.4,667 315.8,663.5 322.5,661.5 329.1,661.5 335.8,661.5 342.2,662.7 348.9,663.9 355.5,666.1 362,667.8 368.7,668.3 375.3,669 382,671.7 388.4,671.2 395.1,671.7 401.7,671.7 408.4,670.7 414.8,671.2 421.5,670.4 428.1,672.1 434.6,671.2 441.3,670.4 447.9,666.1 454.6,663.5 461,660.1 467.7,652.5 474.3,646.2 481,643.1 487.5,635.4 494.1,631.2 500.8,622.6 507.3,613.3 513.9,608.7 520.6,610.4 527,610.4 533.7,612.4 540.3,614.1 547,605.6 553.4,594.5 560.1,584.8 566.7,583.4 573.4,577.5 579.9,579.2 586.5,586.9 593.2,598.8 599.6,607.6 606.3,619.2 612.9,628.1 619.6,628.6 626,628.6 632.7,626.9 639.3,626.4 646,628.6 652.5,632.9 659.1,632.9 665.8,630.3 672.2,624.3 678.9,620.9 685.5,615.8 692.2,613.8 698.6,617.5 705.3,618.4 711.9,621.8 718.6,627.8 725.1,631.5 731.8,631.5 738.2,632.9 744.9,634.6 751.5,631.2 758.2,630.3 764.6,630.3 771.3,632.9 777.9,633.2 784.6,634.6 791.1,638.8 797.7,641.7 804.4,643.1 811,647.4 817.5,649.9 824.1,654.2 830.8,651.3 837.2,652.5 843.9,653.7 850.5,651.6 857.2,651.6 863.7,651.3 870.3,652.5 877,651.3 883.6,651.3 890.1,650.3 896.7,652.5 903.4,652.5 909.8,651.6 916.5,652.5 923.1,653.3 929.8,654.2 936.3,654.2 942.9,656.4 949.6,656.7 956.2,657.6 962.7,660.1 969.4,658.4 975.8,655 982.5,654.2 989.1,651.6 995.8,651.3 1002.3,656.7 1008.9,655 1015.6,652 1022.2,648.2 1028.7,643.1 1035.3,640.5 1042,640.5 1048.4,641.1 1055.1,644.8 1061.7,643.9 1068.4,645.1 1074.9,645.1 1081.5,647.4 1088.2,650.3 1094.8,653.3 1101.3,659.3 1107.9,662.7 1114.6,664.9 1121,666.1 1127.7,666.1 1134.3,664.4 1141,662.7 1147.5,661.5 1154.1,661.5 1160.7,663.5 1167.4,663.5 1173.9,663.9 1180.5,664.9 1187.2,666.1 1193.6,667.3 1200.4,667.6 1206.9,668.9 1213.4,668.6 1220.2,667.6 1226.7,667.6 1233.4,662.8 1239.9,662.8 1246.4,662.8 1253.2,664.7 1259.7,666.6 1266.4,671.4 1272.9,668.6 1279.5,667.6 1286.2,663.8 1292.7,658 1299.2,652.2 1305.9,650.9 1312.5,650.9 1319.2,649.4 1325.7,652.2 1332.2,653.6 1339,651.7 1345.5,650.3 1352.2,647.4 1358.7,644.6 1365.2,642.6 1372,640.7 1378.5,634.4 1385.2,635 1391.7,630.2 1398.3,626.3 1405,624.8 1411.5,631.1 1418,631.1 1424.7,634.4 1431.3,639.8 1438,642.1 1443.7,642.1" stroke="#e8e8e8" stroke-width="1.4" fill="none" stroke-linejoin="round"/>
<polyline points="5.7,389.2 27.3,388.6 54.5,389.4 76.4,385.9 87.3,383.2 109,385.9 136.4,390 163.6,390 190.9,390 207.3,391.4 223.6,395.5 245.4,402.3 270,410.7 287,419.2 304,425.2 329.6,429.4 346.7,433.7 363.7,436.2 389.3,438.8 406.3,443 420,447 431.9,447.3 440.4,445.6 457.5,438 474.5,427.7 490,420.9 510,405.4 515,400 535,377.5 550,355 565,335 575,318.4 587.7,305.7 602,289.8 608.4,283.4 616.4,275.4 625.9,265.9 638.6,258 654.5,249.2 667.3,237.3 675.2,229.3 683.2,220.6 691.1,213.4 700.7,205.5 715,199.1 727.7,195.1 737.3,189.5 746.8,184.8 756.6,178.3 771,174.2 781,172 791.4,172 803.6,175.2 811.8,179.3 828.2,191.6 848.6,199.8 865,208 882.9,215 898.4,222.7 921.6,230.5 944.9,239.8 960.4,248.3 975.8,252.2 991.3,256.8 1006.8,260.7 1020,262.2 1033.2,262.9 1056.5,262.1 1071.9,257.4 1087.4,255.9 1102.9,257.4 1126.2,257.4 1141.6,254.3 1164.9,253.6 1188.1,250.5 1211.3,245.8 1226.8,246.6 1240,247.4 1287.5,247 1300,241.2 1325,232.5 1350,225 1375,213.7 1395,202.5 1412.5,192.5 1430,185 1443.7,179.5" stroke="#e6e600" stroke-width="1.4" fill="none" stroke-linejoin="round"/>
<polyline points="5.7,451.4 16.4,435 30,424 45,420.8 54.5,410.4 65.4,396.8 77.7,384.5 87.3,381 96.8,382.4 107.7,385.9 117.3,394 126.8,400.9 136.4,402.3 144.5,405 152.7,400.9 163.6,392.7 170.4,390.5 177.3,394 188.2,396 199,397.4 207.3,398.2 215.4,405 226.4,414.5 237.3,422.2 248.2,429.5 259,436.4 270,444 278.5,451.6 287,460 295.6,464.4 312.6,463.5 338.2,463.8 355.2,463.2 368.8,462 379,464.4 389.3,463.8 403,463.5 409.7,467 416.6,470.3 421.7,472.9 428.5,468.6 435.3,461.8 445.5,448.2 454,434.5 464.3,419.2 472.8,403.9 481.3,391.9 490,380 498.7,360 505.5,340 515,322.5 526,297.5 535,277.5 538.7,257.5 545,237.5 552.5,217.5 558,208 565,188 572,171 579.2,162 592.5,157.8 603.7,144.5 613,140.5 625.2,132.3 632.8,135.3 639.5,141.5 651.8,147.6 659,142.5 668.2,124 678.4,109.8 686.6,101.6 693.2,99.5 701.4,97 709.5,100.6 717.7,104.7 725,109.4 732,110.8 744.3,108.7 756.6,108.7 764.8,111.8 773,111.8 781,117 789.3,128.2 797.5,136.4 801.6,152.7 809.8,173.2 818,191.6 824,210 831.8,215 836.5,222.7 844.2,232 855,236.7 862.8,244.4 870.5,253.7 881.4,259.1 889.1,269.2 896.9,277 907.7,276.2 921.6,277 932.5,280 944.9,287.8 952.6,295.5 961.9,303 972.7,298.6 983.6,298.6 991.3,301.7 1000.6,304.5 1009.9,302.8 1020.8,291.5 1034.8,285.3 1053.4,274.5 1064.2,263.6 1073.5,256.7 1085.9,251.2 1095.2,255.9 1109.1,256.7 1121.5,257.4 1133.9,251.2 1144.7,248.1 1158.7,250.5 1169.5,249.7 1180.4,241.2 1195.8,234.2 1211.3,227.7 1219.1,228 1226.8,231.9 1234.6,238.9 1242.5,243.7 1252.5,247 1265,247 1275,247 1282.5,243.7 1290,235 1300,223.7 1312.5,211.2 1325,205 1337.5,196.2 1350,192.5 1360,183.7 1370,175 1380,162.5 1390,148.7 1400,137.5 1410,131.2 1417.5,127 1430,128 1437.5,126.2 1443.7,122.5" stroke="#e8e8e8" stroke-width="1.3" fill="none" stroke-linejoin="round"/>
<clipPath id="kc"><rect x="2" y="715" width="1465" height="165"/></clipPath><g clip-path="url(#kc)">
<polyline points="5.7,813.4 12.1,805.9 18.8,801.9 25.5,794.8 31.9,791.8 38.6,789.8 45.3,790.8 51.7,786.7 58.4,783.7 65.1,782.7 71.5,778.7 78.2,776 84.8,777.6 91.3,782.7 98,790.8 104.6,797.8 111.1,810 117.8,820.1 124.2,829.2 130.9,834.2 137.6,838.3 144,839.3 150.7,834.2 157.4,823.1 163,812 169.7,806.9 177.2,807.9 183.8,812 190.5,816 197,819.1 203.6,822.1 210.1,829.2 216.8,835.2 223.4,840.3 229.9,846.3 236.6,850.4 243.2,852 249.7,852.4 256.6,852.4 263,852.4 269.7,853.4 276.2,853.4 282.8,855.4 289.3,858.5 296,853.4 296.1,852.4 303.1,842.3 309.8,832.2 316.3,824.1 322.9,817 328.4,812 336.1,810 342.5,805.9 349.2,802.5 355.1,805.5 361.7,805.5 368.8,803.3 375.9,807.9 382.3,811.6 389,813 394.4,813 401.1,814 407.8,818.1 414.2,826.1 421.3,834.2 424.3,834.2 427.4,830.2 434,822.1 440.5,812 447.6,801.9 454.6,792.8 461.3,785.7 467.8,782.7 473.8,778.7 480.5,776.6 487,776.6 494,775.2 500.5,772.6 507.2,772.6 513.8,773.6 520.3,776.6 526.8,776.6 533.4,776.6 540.1,775.2 547,772.6 553,772.6 559.7,773.6 566.2,773.6 572.2,772.6 578.9,774.6 580,775.6 586.1,785.7 592.5,794.8 599.2,800.9 605.7,806.9 613.3,811 619.8,814 626.5,818.1 632.9,822.1 638.6,828.2 645.1,833.2 652.7,839.9 657.8,837.2 663.8,829.2 669.9,820.1 677,810 685.1,798.9 692.1,793.8 701.2,792.2 709.3,795.8 715.4,801.9 724.4,818.1 731.5,823.7 737.6,826.1 744.6,827.1 750.7,823.1 757.4,820.1 763.8,819.1 770.9,813 777,813 783,817 790.1,825.1 797.2,831.2 803.2,838.3 812.3,845.3 823.4,853.4 830.5,855.4 836.6,855.4 843.6,854.8 849.7,852.4 856.2,845.3 862.8,841.3 869.9,840.7 870,841.3 877.1,837.8 883.1,835.2 889.2,838.3 897.3,841.3 902.3,841.3 909.4,836.2 916.5,829.2 922.9,823.1 929.6,817.6 935.7,816 941.7,818.1 948.8,824.1 954.8,830.2 962.3,835.2 968,833.2 975.1,828.2 982.1,820.1 989.2,816.4 995.3,815.6 1002.3,814 1009.4,813 1015.5,807.9 1021.5,800.9 1028.6,796.8 1034.6,794.8 1041.7,794.2 1047.8,791.8 1053.8,789.8 1060.9,786.7 1067.4,783.3 1074,782.7 1081.1,785.7 1087.2,788.8 1094.2,796.8 1101.3,805.9 1108.4,815 1114.4,822.1 1120.5,827.1 1126.6,826.1 1133.6,820.1 1141.3,813 1147.8,811 1153.8,810 1160,811.5 1166.6,812.6 1173.1,808.2 1180.1,801.6 1186.3,795.1 1193.9,788.5 1200.5,785.7 1207.1,784.8 1213.6,784.1 1219.5,788.5 1226.3,799.5 1233.3,809.3 1240.3,818.1 1246.5,823.5 1251.9,827.9 1258.5,827.9 1266.2,826.8 1272.7,823.5 1279.3,815.9 1285.8,808.2 1292.9,800.5 1299,794.4 1305.5,790.7 1313.2,784.8 1318.7,783 1325.2,782.6 1331.4,781.9 1338.4,781.5 1344.9,784.1 1351.5,790.7 1358.1,790 1364.6,787 1371.9,784.1 1378.4,781.5 1384.3,779.8 1391.6,776.9 1397.5,775.8 1404,776.5 1410.6,776.9 1417.2,778.7 1423.7,786.3 1431,797.3 1436.9,802.7 1443.4,806" stroke="#e6e600" stroke-width="1.25" fill="none" stroke-linejoin="round"/>
<polyline points="5.7,809 12.1,792.8 18.8,788.8 25.5,783.7 31.9,783.3 38.6,786.7 45.3,789.8 51.7,780.7 58.4,778.1 65.1,779.7 71.5,774 78.2,774 84.8,779.7 91.3,794.8 98,803.9 104.6,813 111.1,830.2 117.8,841.3 124.2,847.9 130.9,841.3 137.6,846.3 144,842.3 150.7,822.1 157.4,799.9 163,790.4 169.7,797.8 177.2,810 183.8,820.1 190.5,823.1 197,824.1 203.6,827.7 210.1,843.3 216.8,847.3 223.4,852.4 229.9,858.1 236.6,858.1 243.2,858.1 249.7,854.4 256.6,851.4 263,851.4 269.7,855.4 276.2,854.4 282.8,859.5 289.3,862.5 296,842.3 296.1,838.3 303.1,822.1 309.8,812 316.3,805.9 322.9,803.9 328.4,799.9 336.1,803.9 342.5,798.9 349.2,795.4 355.1,810 361.7,806.9 368.8,799.9 375.9,814 382.3,822.1 389,817 394.4,813 401.1,816 407.8,827.1 414.2,840.3 421.3,847.3 424.3,834.2 427.4,822.1 434,803.9 440.5,791.8 447.6,782.7 454.6,776.6 461.3,774.6 467.8,771.6 473.8,771.2 480.5,772.6 487,775.6 494,770.6 500.5,767.5 507.2,772.6 513.8,777.6 520.3,779.7 526.8,776.6 533.4,776.6 540.1,770.6 547,767.5 553,769.6 559.7,778.7 566.2,773.6 572.2,771.6 578.9,777.6 580,781.7 586.1,801.9 592.5,814 599.2,816 605.7,816 613.3,822.1 619.8,820.1 626.5,824.1 632.9,830.2 638.6,842.3 645.1,845.3 652.7,852 657.8,834.2 663.8,814 669.9,801.9 677,792.8 685.1,781.7 692.1,786.7 701.2,790.8 709.3,801.9 715.4,818.1 724.4,840.3 731.5,837.2 737.6,830.2 744.6,828.2 750.7,818.1 757.4,814.4 763.8,816 770.9,803.5 777,810 783,823.1 790.1,839.3 797.2,845.3 803.2,852.4 812.3,855.4 823.4,862.9 830.5,856.4 836.6,855.4 843.6,854.4 849.7,846.3 856.2,829.8 862.8,834.2 869.9,839.3 870,839.3 877.1,832.2 883.1,829.2 889.2,842.3 897.3,851.4 902.3,838.3 909.4,826.1 916.5,818.1 922.9,810 929.6,806.9 935.7,812 941.7,820.1 948.8,834.2 954.8,844.3 962.3,846.3 968,825.1 975.1,816 982.1,805.5 989.2,810 995.3,814 1002.3,813 1009.4,810.4 1015.5,797.8 1021.5,789.4 1028.6,787.7 1034.6,791.8 1041.7,792.8 1047.8,785.7 1053.8,787.7 1060.9,779.7 1067.4,775.6 1074,781.7 1081.1,793.8 1087.2,793.8 1094.2,810 1101.3,823.1 1108.4,833.2 1114.4,836.6 1120.5,839.3 1126.6,822.1 1133.6,807.9 1141.3,799.5 1147.8,807.9 1153.8,804.9 1160,815.9 1166.6,812.6 1173.1,800.5 1180.1,788.5 1186.3,781.9 1193.9,776.5 1200.5,778.7 1207.1,781.9 1213.6,784.1 1219.5,799.5 1226.3,819.2 1233.3,827.9 1240.3,835.6 1246.5,833.4 1251.9,837.1 1258.5,826.8 1266.2,824.6 1272.7,815.9 1279.3,802.7 1285.8,794 1292.9,782.6 1299,781.9 1305.5,781.5 1313.2,778.7 1318.7,778.2 1325.2,780.8 1331.4,779.3 1338.4,781.3 1344.9,789.6 1351.5,802.7 1358.1,789.6 1364.6,779.8 1371.9,775.4 1378.4,776.9 1384.3,776.5 1391.6,772.1 1397.5,771 1404,777.6 1410.6,779.8 1417.2,783 1423.7,798.4 1431,819.2 1436.9,817 1443.4,814.1" stroke="#e8e8e8" stroke-width="1.2" fill="none" stroke-linejoin="round"/>
<polyline points="5.7,802.9 12.1,768.6 18.8,765.1 25.5,765.1 31.9,768.6 38.6,779.7 45.3,789.8 51.7,771.6 58.4,765.1 65.1,772.6 71.5,762.1 78.2,766.5 84.8,777.6 88.9,803.9 91.3,820.1 98,832.2 104.6,845.3 111.1,880.1 114.1,894.8 121.2,894.8 124.2,880.1 130.9,858.5 137.6,862.5 144,842.3 150.7,793.8 157.4,759.5 163,750.4 167.7,765.5 173.7,795.8 177.2,807.9 183.8,835.2 190.5,838.3 197,838.3 203.6,840.3 210.1,867.5 216.8,872.6 223.4,874.6 229.9,879.7 236.6,873.6 243.2,868.6 249.7,854.4 256.6,847.3 263,850.4 269.7,861.5 276.2,855.4 282.8,865.5 289.3,874.6 292.9,850.4 296,826.1 303.1,787.7 309.8,773.6 316.3,770.2 322.9,773.6 329.4,777.6 336.1,794.8 342.5,783.7 349.2,778.7 355.1,820.1 361.7,807.9 368.8,792.8 372.8,814 382.3,843.3 389,826.1 394.4,814 401.1,825.1 407.8,846.3 414.2,867.5 421.3,875.6 424.3,842.3 427.4,810 434,773.6 440.5,753.4 449.6,743.7 454.6,746.3 461.3,751.4 467.4,748.4 473.8,757.4 480.5,762.5 487,775.6 494,763.5 500.5,760.5 507.2,772.6 513.8,784.7 520.3,788.8 526.8,776.6 533.4,776.6 540.1,764.5 547,760.5 553,767.5 559.7,787.7 566.2,772.6 572.2,767.9 578.9,782.7 580,790.8 586.1,832.2 592.5,855.4 599.2,844.3 605.7,835.2 613.3,841.3 619.8,833.8 626.5,834.2 632.9,844.3 638.6,869.6 645.1,868.6 652.7,874.6 657.8,838.3 663.8,782.7 669.9,764.5 677,749.4 684.4,743.7 690.1,762.5 697.2,776.6 703.2,790.8 709.3,807.9 715.4,842.3 721.4,872.6 723.8,886.7 725.9,886.7 730.5,862.5 737.6,837.2 744.6,831.2 749.7,810 756.8,802.9 763.8,809 770.5,779.7 777,803.9 783,834.2 790.1,868.6 797.2,872.6 803.2,880.1 812.3,877.6 822.4,878.7 829.5,862.5 836.6,855.4 843.6,854.4 849.7,836.2 856.2,799.9 862.8,823.1 869.9,839.3 870,836.2 877.1,820.1 883.1,817 889.2,854.4 896.3,868.6 902.3,832.2 909.4,803.9 916.5,793.8 922.9,785.3 929.6,785.7 935.7,803.9 941.7,826.1 948.8,852.4 954.8,871.6 962.3,867.5 968,812 975.1,793.8 982.1,776.6 989.2,800.9 995.3,814 1002.3,810 1009.4,801.9 1015.5,777.6 1021.5,765.1 1028.6,768.6 1034.6,786.7 1041.7,790.8 1047.8,775.6 1053.8,778.7 1060.9,764.5 1067.4,760.5 1074,777.6 1081.1,805.9 1087.2,803.9 1094.2,842.3 1101.3,858.5 1108.4,868.6 1114.4,866.5 1120.5,860.5 1126.6,822.1 1133.6,785.7 1141.3,773.6 1147.8,800.9 1153.8,795.4 1160,826.8 1166.6,815.9 1173.1,789.6 1180.1,761.2 1186.3,758.5 1193.9,751.3 1200.5,764.4 1207.1,777.6 1213.6,786.3 1219.5,811.5 1226.3,864 1233.3,869.5 1240.3,873.2 1246.5,855.3 1251.9,856.4 1258.5,826.8 1266.2,820.2 1272.7,802.7 1279.3,776.5 1285.8,764.4 1292.9,750.2 1299,756.8 1305.5,763.3 1313.2,766.2 1318.7,766.6 1325.2,778.7 1331.4,775.4 1338.4,781.9 1344.9,799.5 1351.5,827.9 1358.1,788.5 1364.6,769.9 1371.9,759 1378.4,768.8 1384.3,772.5 1391.6,762.2 1397.5,763.8 1404,777.6 1410.6,784.1 1417.2,788.5 1423.7,824.6 1431,862.9 1436.9,847.6 1443.4,832.3" stroke="#e600e6" stroke-width="1.25" fill="none" stroke-linejoin="round"/>
</g>
<clipPath id="mc"><rect x="2" y="41.2" width="1466" height="496"/></clipPath>
<path d="M129.4 431L131.4 431L138.2 437.8V440.6H133.6V447.8H127.2V440.6H122.6V437.8ZM249.9 463.6L251.9 463.6L258.7 470.4V473.2H254.1V480.4H247.7V473.2H243.1V470.4ZM302.2 478.8L304.2 478.8L311 485.6V488.4H306.4V495.6H300V488.4H295.4V485.6ZM427.1 488.2L429.1 488.2L435.9 495V497.8H431.3V505H424.9V497.8H420.3V495ZM658 174.2L660 174.2L666.8 181V183.8H662.2V191H655.8V183.8H651.2V181ZM830 305.6L832 305.6L838.8 312.4V315.2H834.2V322.4H827.8V315.2H823.2V312.4ZM902.5 318.8L904.5 318.8L911.3 325.6V328.4H906.7V335.6H900.3V328.4H895.7V325.6ZM948.5 317.2L950.5 317.2L957.3 324V326.8H952.7V334H946.3V326.8H941.7V324ZM968.3 332L970.3 332L977.1 338.8V341.6H972.5V348.8H966.1V341.6H961.5V338.8ZM1246 267.5L1248 267.5L1254.8 274.3V277.1H1250.2V284.3H1243.8V277.1H1239.2V274.3ZM1424.5 168.7L1426.5 168.7L1433.3 175.5V178.3H1428.7V185.5H1422.3V178.3H1417.7V175.5ZM197.2 14.8L199.2 14.8L206 21.6V24.4H201.4V31.6H195V24.4H190.4V21.6Z" fill="#ff0000"/>
<path clip-path="url(#mc)" d="M37.1 366.2H41.9V373.4H46.6L39.5 381.3L32.4 373.4H37.1ZM83.5 331.6H88.3V338.8H93L85.9 346.7L78.8 338.8H83.5ZM372.9 435.3H377.7V442.5H382.4L375.3 450.4L368.2 442.5H372.9ZM557.4 81.3H562.2V88.5H566.9L559.8 96.4L552.7 88.5H557.4ZM578.6 39.3H583.4V46.5H588.1L581 54.4L573.9 46.5H578.6ZM1033.2 245.1H1038V252.3H1042.7L1035.6 260.2L1028.5 252.3H1033.2ZM1052.5 235.8H1057.3V243H1062L1054.9 250.9L1047.8 243H1052.5ZM1073.4 203.3H1078.2V210.5H1082.9L1075.8 218.4L1068.7 210.5H1073.4ZM1211.6 192.4H1216.4V199.6H1221.1L1214 207.5L1206.9 199.6H1211.6ZM1316.8 156.3H1321.6V163.5H1326.3L1319.2 171.4L1312.1 163.5H1316.8ZM1409.6 83.8H1414.4V91H1419.1L1412 98.9L1404.9 91H1409.6Z" stroke="#00e000" stroke-width="1.6" fill="none" stroke-linejoin="round"/>
<path d="M1358.5 133.2L1360.5 133.2L1367.3 126.4V123.6H1362.7V116.2H1356.3V123.6H1351.7V126.4Z" fill="#00ff00"/>
<path d="M2.2 451.4 L14.2 464.4 V510.5 L2.2 528 Z" fill="#363636" fill-opacity="0.93" stroke="#6c6c6c" stroke-width="1.3"/>
<path d="M3.4 481 L11 488 L3.4 495 Z" fill="#e09a00"/>
<g font-family="'Liberation Sans', sans-serif" style="white-space:pre" stroke="#000" stroke-width="0.35">
<text x="2" y="30.2" fill="#f4f4f4" stroke="none" font-size="18.4" font-family="'Liberation Sans', 'Noto Sans CJK SC', sans-serif" textLength="178" lengthAdjust="spacingAndGlyphs">创业板指(日线.前复权)</text>
<text x="210.32" y="30.2" fill="#ffffff" font-size="18.4" textLength="59.35" lengthAdjust="spacingAndGlyphs">EXPMA</text>
<text x="269.32" y="30.2" fill="#ffffff" font-size="18.4" textLength="57.69" lengthAdjust="spacingAndGlyphs">(12,50)</text>
<text x="334.22" y="30.2" fill="#ffffff" font-size="18.4" textLength="49.46" lengthAdjust="spacingAndGlyphs">EXP1:</text>
<text x="389.98" y="30.2" fill="#ffffff" font-size="18.4" textLength="65.78" lengthAdjust="spacingAndGlyphs">1689.36</text>
<text x="464.08" y="30.2" fill="#ffff00" font-size="18.4" textLength="50.09" lengthAdjust="spacingAndGlyphs">EXP2:</text>
<text x="518.48" y="30.2" fill="#ffff00" font-size="18.4" textLength="66.64" lengthAdjust="spacingAndGlyphs">1618.90</text>
<text x="2.22" y="557.3" fill="#ffffff" font-size="18.4" textLength="78.20" lengthAdjust="spacingAndGlyphs">VOLUME:</text>
<text x="84.81" y="557.3" fill="#ffffff" font-size="18.4" textLength="108.11" lengthAdjust="spacingAndGlyphs">81861384.00</text>
<text x="200.95" y="557.3" fill="#ffffff" font-size="18.4" textLength="39.84" lengthAdjust="spacingAndGlyphs">MA5:</text>
<text x="245.61" y="557.3" fill="#ffffff" font-size="18.4" textLength="107.81" lengthAdjust="spacingAndGlyphs">85385160.00</text>
<text x="362.13" y="557.3" fill="#ffff00" font-size="18.4" textLength="50.43" lengthAdjust="spacingAndGlyphs">MA10:</text>
<text x="416.46" y="557.3" fill="#ffff00" font-size="18.4" textLength="107.67" lengthAdjust="spacingAndGlyphs">92032160.00</text>
<text x="1.65" y="733.2" fill="#ffffff" font-size="18.4" textLength="88.19" lengthAdjust="spacingAndGlyphs">KDJ(9,3,3)</text>
<text x="96.28" y="733.2" fill="#ffffff" font-size="18.4" textLength="17.40" lengthAdjust="spacingAndGlyphs">K:</text>
<text x="117.55" y="733.2" fill="#ffffff" font-size="18.4" textLength="45.73" lengthAdjust="spacingAndGlyphs">51.70</text>
<text x="170.90" y="733.2" fill="#ffff00" font-size="18.4" textLength="19.30" lengthAdjust="spacingAndGlyphs">D:</text>
<text x="193.82" y="733.2" fill="#ffff00" font-size="18.4" textLength="46.30" lengthAdjust="spacingAndGlyphs">58.75</text>
<text x="247.35" y="733.2" fill="#ff00ff" font-size="18.4" textLength="15.17" lengthAdjust="spacingAndGlyphs">J:</text>
<text x="266.27" y="733.2" fill="#ff00ff" font-size="18.4" textLength="46.19" lengthAdjust="spacingAndGlyphs">37.58</text>
<text x="313.12" y="519.8" fill="#e0e0e0" font-size="18.4" textLength="68.13" lengthAdjust="spacingAndGlyphs">1201.80</text>
<text x="711.15" y="56.2" fill="#e0e0e0" font-size="18.4" textLength="67.79" lengthAdjust="spacingAndGlyphs">1792.03</text>
<path d="M312.5 511H295.5M300.5 507L295.5 511L300.5 516" stroke="#e8e8e8" stroke-width="1.4" fill="none"/>
<path d="M708.3 48 L703 45.6 L699 45.2 L695 43.4 L691.4 42.2 M696.8 40.6 L692.6 40.6 L691.2 42.4 L692.4 45.6 L694.8 48.4" stroke="#d8d8d8" stroke-width="1.2" fill="none"/>
</g>
<line x1="2" y1="449.5" x2="1217" y2="38" stroke="#e6e600" stroke-width="1.5"/>
<line x1="168" y1="520.5" x2="1467.5" y2="83.7" stroke="#e6e600" stroke-width="1.5"/>
<line x1="550" y1="521" x2="1467.5" y2="211.2" stroke="#e6e600" stroke-width="1.5"/>
<line x1="2" y1="450" x2="1467.5" y2="128.7" stroke="#e6e600" stroke-width="1.5"/>
<line x1="180" y1="521" x2="1467.5" y2="238.7" stroke="#e6e600" stroke-width="1.5"/>
<line x1="2" y1="94.3" x2="1467" y2="94.3" stroke="#e6e600" stroke-width="1.6"/>
<line x1="2" y1="219" x2="1467" y2="219" stroke="#e6e600" stroke-width="1.6"/>
<line x1="1001" y1="304.4" x2="1467" y2="304.4" stroke="#c8c8c8" stroke-width="1.2"/>
</svg>
</body></html>
